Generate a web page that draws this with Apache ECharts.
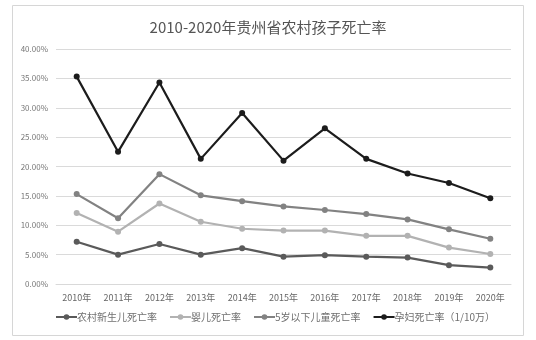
<!DOCTYPE html>
<html>
  <head>
    <meta charset="utf-8" />
    <title>ECharts</title>
    <script src="https://cdn.jsdelivr.net/npm/echarts@6.0.0/dist/echarts.min.js"></script>
    <style>
      body { margin: 0; background: #fff; }
    </style>
  </head>
  <body>
    <div id="main" style="width: 536px; height: 340px"></div>
    <script type="text/javascript">
      // 年份
      const years = ['2010年', '2011年', '2012年', '2013年', '2014年', '2015年', '2016年', '2017年', '2018年', '2019年', '2020年']
      // 各项死亡率（%）
      const newborn = [7.2, 5.0, 6.8, 5.0, 6.1, 4.65, 4.9, 4.65, 4.5, 3.2, 2.8]
      const infant = [12.1, 8.9, 13.7, 10.6, 9.4, 9.1, 9.1, 8.2, 8.2, 6.2, 5.1]
      const under5 = [15.3, 11.2, 18.7, 15.1, 14.1, 13.2, 12.6, 11.9, 11.0, 9.3, 7.7]
      const maternal = [35.3, 22.5, 34.3, 21.3, 29.1, 21.0, 26.5, 21.3, 18.8, 17.2, 14.6]

      const names = ['农村新生儿死亡率', '婴儿死亡率', '5岁以下儿童死亡率', '孕妇死亡率（1/10万）']
      const colors = ['#5a5a5a', '#b2b2b2', '#828282', '#1c1c1c']
      const seriesData = [newborn, infant, under5, maternal]

      var myChart = echarts.init(document.getElementById('main'))

      const font = 'Noto Sans CJK SC'

      option = {
        backgroundColor: '#fff',
        animation: false,
        title: {
          text: '2010-2020年贵州省农村孩子死亡率',
          left: 'center',
          top: 15,
          textStyle: { fontSize: 15, fontWeight: 'normal', color: '#555', fontFamily: font },
        },
        graphic: [
          {
            type: 'rect',
            shape: { x: 12.5, y: 5.5, width: 511, height: 330 },
            style: { fill: 'none', stroke: '#d6d6d6', lineWidth: 1 },
            silent: true,
          },
        ],
        legend: {
          left: 50,
          top: 307,
          itemWidth: 21,
          itemHeight: 7,
          itemGap: 12,
          textStyle: { fontSize: 10, color: '#707070', fontFamily: font, padding: [0, 0, 0, -5] },
          data: names,
        },
        grid: { left: 56, right: 25, top: 49, bottom: 56 },
        xAxis: {
          type: 'category',
          data: years,
          axisLine: { lineStyle: { color: '#d9d9d9' } },
          axisTick: { show: false },
          axisLabel: { fontSize: 9, color: '#666', fontFamily: font, margin: 9 },
        },
        yAxis: {
          type: 'value',
          min: 0,
          max: 40,
          interval: 5,
          axisLine: { show: false },
          axisTick: { show: false },
          splitLine: { lineStyle: { color: '#dadada' } },
          axisLabel: {
            fontSize: 8,
            color: '#777',
            fontFamily: font,
            margin: 8,
            formatter: (v) => v.toFixed(2) + '%',
          },
        },
        series: names.map((n, i) => ({
          name: n,
          type: 'line',
          data: seriesData[i],
          symbol: 'circle',
          symbolSize: 6,
          lineStyle: { width: 2.2, color: colors[i] },
          itemStyle: { color: colors[i] },
        })),
      }

      myChart.setOption(option)
    </script>
  </body>
</html>
